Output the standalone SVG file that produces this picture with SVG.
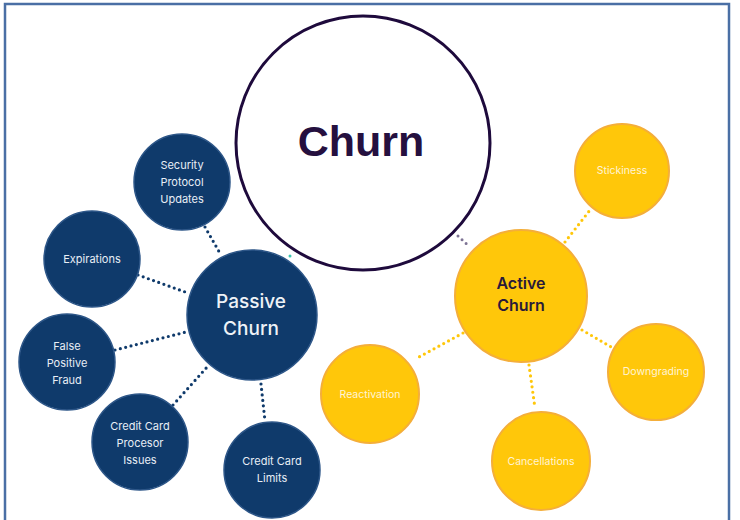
<svg xmlns="http://www.w3.org/2000/svg" width="740" height="520" viewBox="0 0 740 520">
<style>
.navy{fill:#0f3a6b;stroke:#2d5688;stroke-width:1.5}
.gold{fill:#ffc70a;stroke:#f4ae3a;stroke-width:2}
.lbl{font-family:Inter,"Liberation Sans",sans-serif;text-anchor:middle}
.sm{font-size:11px;fill:#e8eef6}
.smy{font-size:10.5px;fill:#fff4d6}
.dotn{stroke:#0f3a6b;stroke-width:3.2;stroke-linecap:round;stroke-dasharray:0 5.5;fill:none}
.doty{stroke:#ffc70a;stroke-width:3.2;stroke-linecap:round;stroke-dasharray:0 5.5;fill:none}
</style>
<rect x="5" y="4" width="724" height="520" fill="#fff" stroke="#4a6fa5" stroke-width="2.5"/>
<g id="connectors">
<line class="dotn" x1="205" y1="227" x2="221" y2="255"/>
<line class="dotn" x1="138" y1="275" x2="188" y2="293"/>
<line class="dotn" x1="115" y1="350" x2="186" y2="332"/>
<line class="dotn" x1="173" y1="405" x2="208" y2="366"/>
<line class="dotn" x1="261" y1="384" x2="265" y2="421"/>
<line class="doty" x1="565" y1="242" x2="590" y2="210"/>
<line class="doty" x1="582" y1="330" x2="613" y2="348"/>
<line class="doty" x1="529" y1="365" x2="535" y2="408"/>
<line class="doty" x1="463" y1="333" x2="419" y2="357"/>
<line stroke="#7d7394" stroke-width="3" stroke-linecap="round" stroke-dasharray="0 5.5" x1="458" y1="236" x2="470" y2="247"/>
<circle cx="290" cy="256" r="1.5" fill="#3cc6b0"/>
</g>
<g id="churn">
<circle cx="363" cy="143" r="127" fill="#fff" stroke="#1e0a3c" stroke-width="3"/>
<text x="361" y="156" font-family="'Liberation Sans',Arial,sans-serif" font-weight="bold" font-size="43" fill="#25103f" text-anchor="middle">Churn</text>
</g>
<g id="passive">
<circle class="navy" cx="252" cy="315" r="65"/>
<text class="lbl" x="251" y="308" font-size="19" font-weight="500" fill="#eef2f7">Passive</text>
<text class="lbl" x="251" y="335" font-size="19" font-weight="500" fill="#eef2f7">Churn</text>
</g>
<g id="security">
<circle class="navy" cx="182" cy="182" r="48"/>
<text class="lbl sm" x="182" y="169">Security</text>
<text class="lbl sm" x="182" y="186">Protocol</text>
<text class="lbl sm" x="182" y="203">Updates</text>
</g>
<g id="expirations">
<circle class="navy" cx="92" cy="259" r="48"/>
<text class="lbl sm" x="92" y="263">Expirations</text>
</g>
<g id="falsepositive">
<circle class="navy" cx="67" cy="362" r="48"/>
<text class="lbl sm" x="67" y="350">False</text>
<text class="lbl sm" x="67" y="367">Positive</text>
<text class="lbl sm" x="67" y="384">Fraud</text>
</g>
<g id="processor">
<circle class="navy" cx="140" cy="442" r="48"/>
<text class="lbl sm" x="140" y="430">Credit Card</text>
<text class="lbl sm" x="140" y="447">Procesor</text>
<text class="lbl sm" x="140" y="464">Issues</text>
</g>
<g id="limits">
<circle class="navy" cx="272" cy="470" r="48"/>
<text class="lbl sm" x="272" y="465">Credit Card</text>
<text class="lbl sm" x="272" y="482">Limits</text>
</g>
<g id="active">
<circle class="gold" cx="521" cy="296" r="66"/>
<text class="lbl" x="521" y="289" font-size="16" font-weight="600" fill="#2a1a3a">Active</text>
<text class="lbl" x="521" y="311" font-size="16" font-weight="600" fill="#2a1a3a">Churn</text>
</g>
<g id="stickiness">
<circle class="gold" cx="622" cy="171" r="47"/>
<text class="lbl smy" x="622" y="174">Stickiness</text>
</g>
<g id="downgrading">
<circle class="gold" cx="656" cy="372" r="48"/>
<text class="lbl smy" x="656" y="375">Downgrading</text>
</g>
<g id="cancellations">
<circle class="gold" cx="541" cy="461" r="49"/>
<text class="lbl smy" x="541" y="465">Cancellations</text>
</g>
<g id="reactivation">
<circle class="gold" cx="370" cy="394" r="49"/>
<text class="lbl smy" x="370" y="398">Reactivation</text>
</g>
</svg>
